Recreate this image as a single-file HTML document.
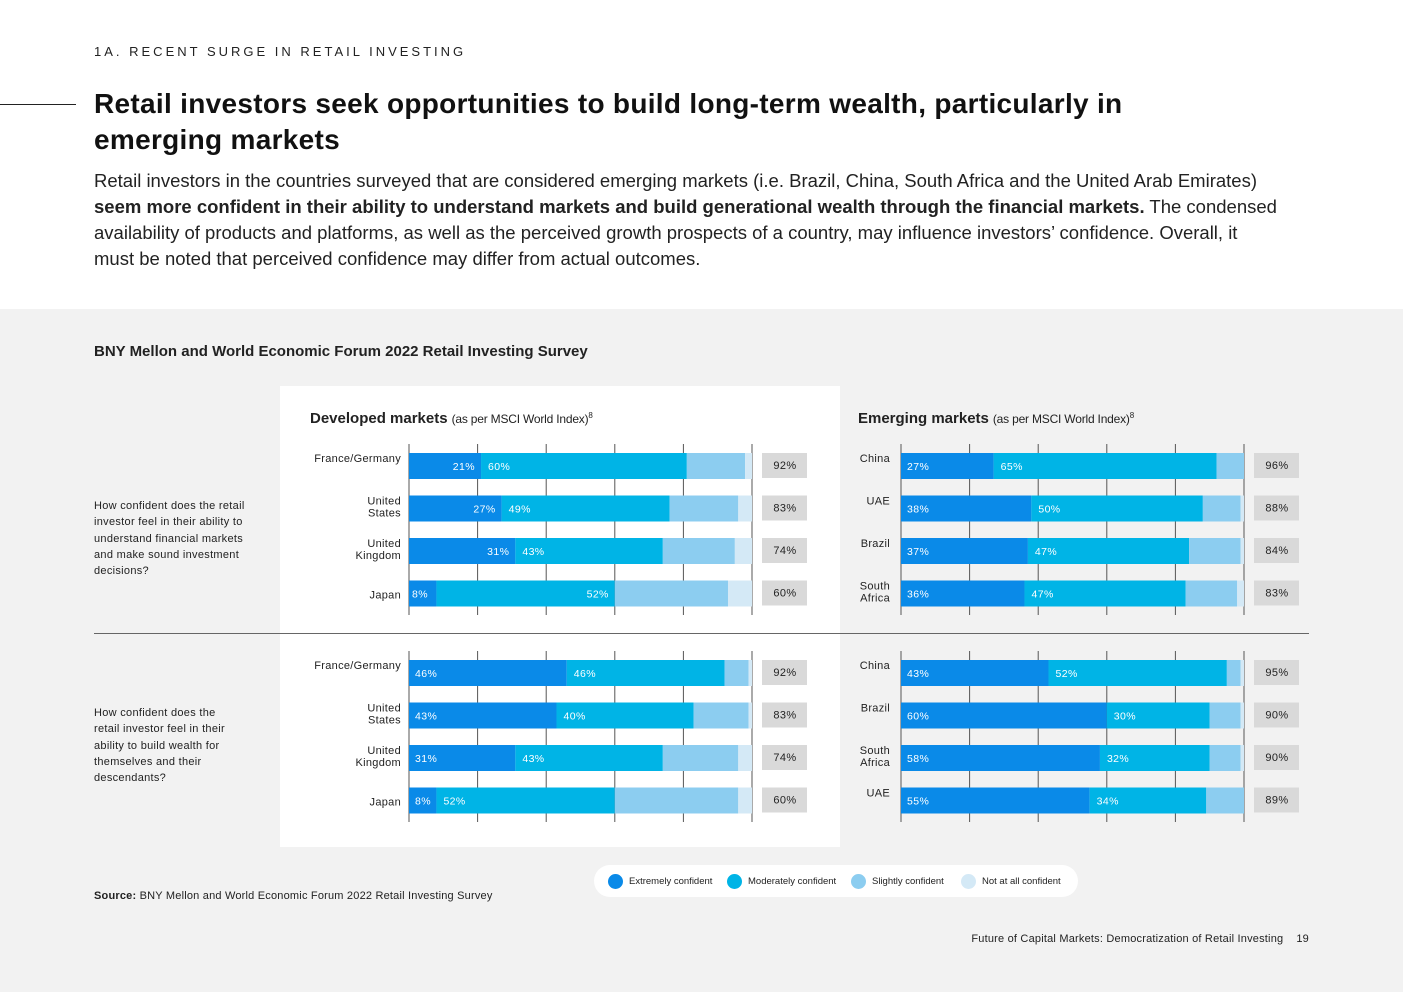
<!DOCTYPE html>
<html><head><meta charset="utf-8">
<style>
body{margin:0;width:1403px;height:992px;position:relative;font-family:"Liberation Sans",sans-serif;background:#f2f2f2;overflow:hidden;color:#111}
.top{position:absolute;left:0;top:0;width:1403px;height:309px;background:#fff}
.kicker{position:absolute;left:94px;top:44px;font-size:13px;letter-spacing:3px;color:#222}
.rule{position:absolute;left:0;top:104px;width:76px;height:1px;background:#222}
h1{position:absolute;left:94px;top:86px;margin:0;font-size:28px;font-weight:bold;line-height:36px;width:1060px;color:#111;letter-spacing:0.3px}
.intro{position:absolute;left:94px;top:168px;width:1260px;font-size:18.5px;line-height:26px;color:#222;letter-spacing:0px;white-space:nowrap}
.sub{position:absolute;left:94px;top:343px;font-size:15px;font-weight:bold;color:#222}
.panel{position:absolute;left:280px;top:386px;width:560px;height:461px;background:#fff}
.q{position:absolute;left:94px;font-size:11px;line-height:16.3px;color:#222;letter-spacing:0.3px}
.src{position:absolute;left:94px;top:890px;font-size:11px;color:#222;letter-spacing:0.2px}
.foot{position:absolute;right:94px;top:933px;font-size:11px;color:#222;letter-spacing:0.2px}
.legend{position:absolute;left:594px;top:865px;width:484px;height:32px;background:#fff;border-radius:16px;font-size:9.5px;color:#222}
.li{position:absolute;top:9px;display:flex;align-items:center;gap:6px}
.dot{width:15px;height:15px;border-radius:50%}
svg{position:absolute;left:0;top:0}
</style></head><body>
<div class="top"></div>
<div class="kicker">1A. RECENT SURGE IN RETAIL INVESTING</div>
<div class="rule"></div>
<h1>Retail investors seek opportunities to build long-term wealth, particularly in emerging markets</h1>
<div class="intro">Retail investors in the countries surveyed that are considered emerging markets (i.e. Brazil, China, South Africa and the United Arab Emirates)<br><b>seem more confident in their ability to understand markets and build generational wealth through the financial markets.</b> The condensed<br>availability of products and platforms, as well as the perceived growth prospects of a country, may influence investors’ confidence. Overall, it<br>must be noted that perceived confidence may differ from actual outcomes.</div>
<div class="sub">BNY Mellon and World Economic Forum 2022 Retail Investing Survey</div>
<div class="panel"></div>
<div class="q" style="top:498px;width:165px">How confident does the retail investor feel in their ability to understand financial markets and make sound investment decisions?</div>
<div class="q" style="top:705px;width:135px">How confident does the retail investor feel in their ability to build wealth for themselves and their descendants?</div>
<div class="src"><b>Source:</b> BNY Mellon and World Economic Forum 2022 Retail Investing Survey</div>
<div class="foot">Future of Capital Markets: Democratization of Retail Investing &nbsp;&nbsp;&nbsp;19</div>
<div class="legend">
 <div class="li" style="left:14px"><div class="dot" style="background:#0a8ae8"></div>Extremely confident</div>
 <div class="li" style="left:133px"><div class="dot" style="background:#00b4e6"></div>Moderately confident</div>
 <div class="li" style="left:257px"><div class="dot" style="background:#8ccdf0"></div>Slightly confident</div>
 <div class="li" style="left:367px"><div class="dot" style="background:#d4e9f6"></div>Not at all confident</div>
</div>
<svg id="chart" width="1403" height="992"></svg>
<script>
const devTopCats=["France/Germany","United States","United Kingdom","Japan"];
const devTopExt=[21,27,31,8];
const devTopMod=[60,49,43,52];
const devTopSli=[17,20,21,33];
const devTopNot=[2,4,5,7];
const devTopTot=[92,83,74,60];
const devBotCats=["France/Germany","United States","United Kingdom","Japan"];
const devBotExt=[46,43,31,8];
const devBotMod=[46,40,43,52];
const devBotSli=[7,16,22,36];
const devBotNot=[1,1,4,4];
const devBotTot=[92,83,74,60];
const emTopCats=["China","UAE","Brazil","South Africa"];
const emTopExt=[27,38,37,36];
const emTopMod=[65,50,47,47];
const emTopSli=[8,11,15,15];
const emTopNot=[0,1,1,2];
const emTopTot=[96,88,84,83];
const emBotCats=["China","Brazil","South Africa","UAE"];
const emBotExt=[43,60,58,55];
const emBotMod=[52,30,32,34];
const emBotSli=[4,9,9,11];
const emBotNot=[1,1,1,0];
const emBotTot=[95,90,90,89];
const totTicks=[0,20,40,60,80,100];

const NS="http://www.w3.org/2000/svg";
const svg=document.getElementById('chart');
function mk(t,a){const e=document.createElementNS(NS,t);for(const k in a)e.setAttribute(k,a[k]);svg.appendChild(e);return e;}
const cols=["#0a8ae8","#00b4e6","#8ccdf0","#d4e9f6"];
const segNames=["extremely","moderately","slightly","not-at-all"];
function draw(id,x0,y0,cats,ext,mod,sli,nott,tot,extRight){
  const W=343, sx=v=>x0+v/100*W, rowY=i=>y0+i*42.5, bh=26;
  totTicks.forEach(t=>{const l=mk('line',{x1:sx(t),x2:sx(t),y1:y0-9,y2:y0+162,stroke:'#555','stroke-width':1});
    
    });
  cats.forEach((c,i)=>{
    const vals=[ext[i],mod[i],sli[i],nott[i]];let acc=0;const y=rowY(i);
    vals.forEach((v,k)=>{const r=mk('rect',{x:sx(acc),y:y,width:sx(acc+v)-sx(acc),height:bh,fill:cols[k]});
      
      acc+=v;});
    const lab=(txt,x,anchor)=>{const t=mk('text',{x:x,y:y+17,fill:'#fff','font-size':10.5,'letter-spacing':0.4,'text-anchor':anchor});t.textContent=txt;
      
      };
    if(extRight&&ext[i]>=15){lab(ext[i]+'%',sx(ext[i])-6,'end');lab(mod[i]+'%',sx(ext[i])+7,'start');}
    else if(extRight){lab(ext[i]+'%',sx(0)+3,'start');lab(mod[i]+'%',sx(ext[i]+mod[i])-6,'end');}
    else{lab(ext[i]+'%',sx(0)+6,'start');lab(mod[i]+'%',sx(ext[i])+7,'start');}
    const parts=c.split(' ');
    const lines=(c==="France/Germany"||parts.length==1)?[c]:parts;
    lines.forEach((ln,j)=>{const t=mk('text',{x:x0-8,y:y+(lines.length==1?(c==="Japan"?18:9):2+7)+j*12,'font-size':11,'letter-spacing':0.3,'text-anchor':'end',fill:'#222'});
      if(id.startsWith('em')){t.setAttribute('x',x0-11);}
      t.textContent=ln;
      
      });
    const bx=mk('rect',{x:x0+353,y:y,width:45,height:25,fill:'#d9d9d9'});
    
    
    const tt=mk('text',{x:x0+376,y:y+16,'font-size':11,'letter-spacing':0.4,'text-anchor':'middle',fill:'#222'});
    tt.textContent=tot[i]+'%';
    
    
  });
}
draw('dev-top',409,453,devTopCats,devTopExt,devTopMod,devTopSli,devTopNot,devTopTot,true);
draw('dev-bot',409,660,devBotCats,devBotExt,devBotMod,devBotSli,devBotNot,devBotTot,false);
draw('em-top',901,453,emTopCats,emTopExt,emTopMod,emTopSli,emTopNot,emTopTot,false);
draw('em-bot',901,660,emBotCats,emBotExt,emBotMod,emBotSli,emBotNot,emBotTot,false);
const dv=mk('line',{x1:94,x2:1309,y1:633.5,y2:633.5,stroke:'#666','stroke-width':1});


function title(x,txt){const t=mk('text',{x:x,y:423,'font-size':15,fill:'#222'});
  t.innerHTML='<tspan font-weight="bold">'+txt+'</tspan><tspan font-size="12" dx="4" letter-spacing="-0.2">(as per MSCI World Index)</tspan><tspan font-size="8" dy="-5">8</tspan>';
  
  }
title(310,'Developed markets');title(858,'Emerging markets');
</script>
</body></html>
